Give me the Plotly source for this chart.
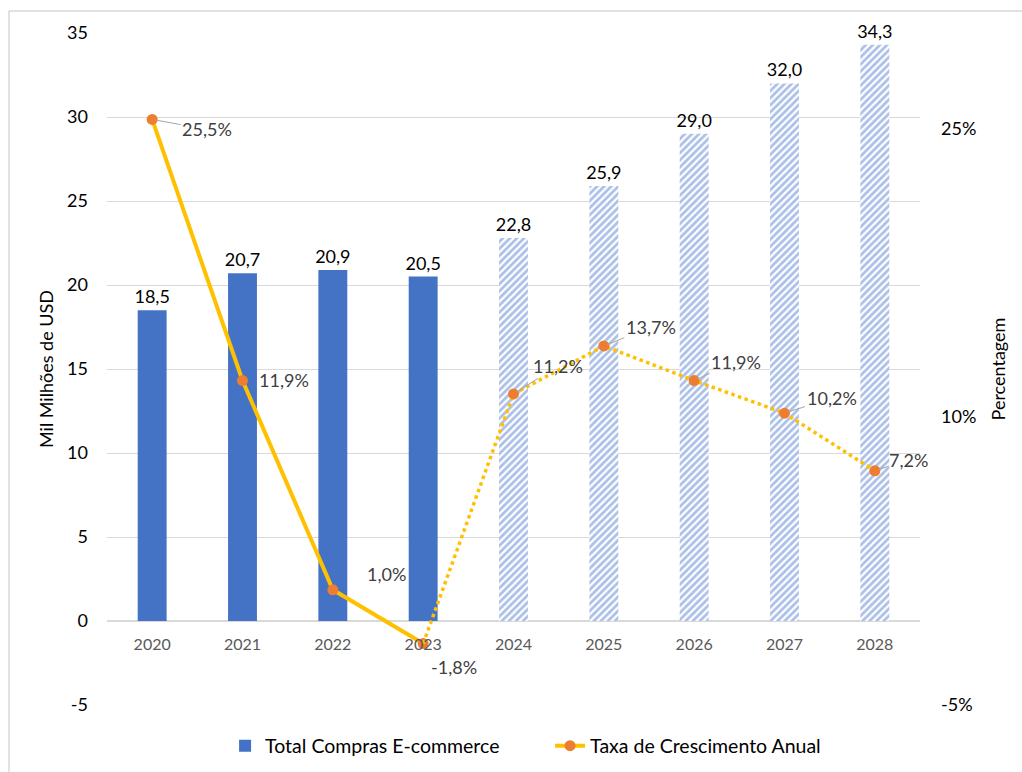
import plotly.graph_objects as go

# Data
years = ["2020", "2021", "2022", "2023", "2024", "2025", "2026", "2027", "2028"]
compras = [18.5, 20.7, 20.9, 20.5, 22.8, 25.9, 29.0, 32.0, 34.3]
crescimento = [25.5, 11.9, 1.0, -1.8, 11.2, 13.7, 11.9, 10.2, 7.2]
n_real = 4  # first four years are actual values, the rest are forecasts

usd_ticks = [-5, 0, 5, 10, 15, 20, 25, 30, 35]
usd_ticktext = ["-5", "0", "5", "10", "15", "20", "25", "30", "35"]
pct_ticks = [-5, 10, 25]
pct_ticktext = ["-5%", "10%", "25%"]

# growth-label offsets (px) and whether a leader line is drawn
label_dx = [55, 41, 54, 31, 44, 47, 42, 47, 34]
label_dy = [10, -1, -16, 23, -28, -19, -19, -15, -11]
leader = [True, False, False, False, True, True, True, True, True]

FONT = "Lato"
BLUE = "#4472C4"
GOLD = "#FFC000"
ORANGE = "#ED7D31"

W, H = 1022, 772
L, R, T, B = 107, 102, 33, 67

fig = go.Figure()

fig.add_trace(go.Bar(
    x=years, y=compras, name="Total Compras E-commerce",
    width=0.32,
    marker=dict(
        color=BLUE,
        line=dict(width=0),
        pattern=dict(
            shape=[""] * n_real + ["/"] * (len(years) - n_real),
            fgcolor="#5A82CF", bgcolor="white", size=5, solidity=0.55,
        ),
    ),
    texttemplate="%{y:.1f}", textposition="outside", constraintext="none",
    textfont=dict(size=18, color="#000000", family=FONT),
    cliponaxis=False,
))

# Actual growth: solid line
fig.add_trace(go.Scatter(
    x=years[:n_real], y=crescimento[:n_real], yaxis="y2",
    name="Taxa de Crescimento Anual", mode="lines+markers",
    line=dict(color=GOLD, width=4),
    marker=dict(color=ORANGE, size=11),
    cliponaxis=False,
))
# Forecast growth: dotted line
fig.add_trace(go.Scatter(
    x=years[n_real - 1:], y=crescimento[n_real - 1:], yaxis="y2",
    mode="lines", showlegend=False,
    line=dict(color=GOLD, width=3.5, dash="dot"),
    cliponaxis=False,
))
fig.add_trace(go.Scatter(
    x=years[n_real:], y=crescimento[n_real:], yaxis="y2",
    mode="markers", showlegend=False,
    marker=dict(color=ORANGE, size=11),
    cliponaxis=False,
))

annotations = []
for i, v in enumerate(crescimento):
    annotations.append(dict(
        x=i, y=v, xref="x", yref="y2",  # category index on the x axis
        text=f"{v:.1f}%".replace(".", ","),
        showarrow=True, arrowhead=0, arrowwidth=1,
        arrowcolor="#A6A6A6" if leader[i] else "rgba(0,0,0,0)",
        standoff=4, ax=label_dx[i], ay=label_dy[i],
        font=dict(size=18, color="#404040", family=FONT),
    ))

pw = W - L - R
ph = H - T - B
x_left = (9 - L) / pw
y_top = (H - B - 11) / ph

fig.update_layout(
    width=W, height=H,
    margin=dict(l=L, r=R, t=T, b=B, pad=0, autoexpand=False),
    paper_bgcolor="white", plot_bgcolor="white",
    font=dict(family=FONT, size=18, color="#000000"),
    separators=",.",
    xaxis=dict(
        type="category", range=[-0.5, len(years) - 0.5],
        anchor="free", position=5 / 40,
        showgrid=False, showline=False, ticks="", ticklabelstandoff=12,
        tickfont=dict(size=16, color="#595959", family=FONT),
    ),
    yaxis=dict(
        range=[-5, 35], tickmode="array", tickvals=usd_ticks, ticktext=usd_ticktext,
        showgrid=True, gridcolor="#D9D9D9", gridwidth=1,
        zeroline=True, zerolinecolor="#D9D9D9", zerolinewidth=1.5,
        ticks="", ticklabelstandoff=18,
        tickfont=dict(size=18, color="#000000"),
        title=dict(text="Mil Milhões de USD", font=dict(size=18), standoff=8),
    ),
    yaxis2=dict(
        overlaying="y", side="right", range=[-5, 30],
        tickmode="array", tickvals=pct_ticks, ticktext=pct_ticktext,
        showgrid=False, zeroline=False, ticks="", ticklabelstandoff=20,
        tickfont=dict(size=18, color="#000000"),
        title=dict(text="Percentagem", font=dict(size=18), standoff=17),
    ),
    legend=dict(
        orientation="h", x=0.545, xanchor="center",
        yref="container", y=1 - 746 / H, yanchor="middle",
        font=dict(size=19.5), itemwidth=30,
        entrywidth=280, entrywidthmode="pixels",
    ),
    annotations=annotations,
    shapes=[
        dict(type="line", xref="paper", yref="paper", x0=x_left, x1=x_left,
             y0=-0.2, y1=y_top, line=dict(color="#D9D9D9", width=1.5)),
        dict(type="line", xref="paper", yref="paper", x0=x_left, x1=1.2,
             y0=y_top, y1=y_top, line=dict(color="#D9D9D9", width=1.5)),
    ],
)

fig.write_html("out.html")
